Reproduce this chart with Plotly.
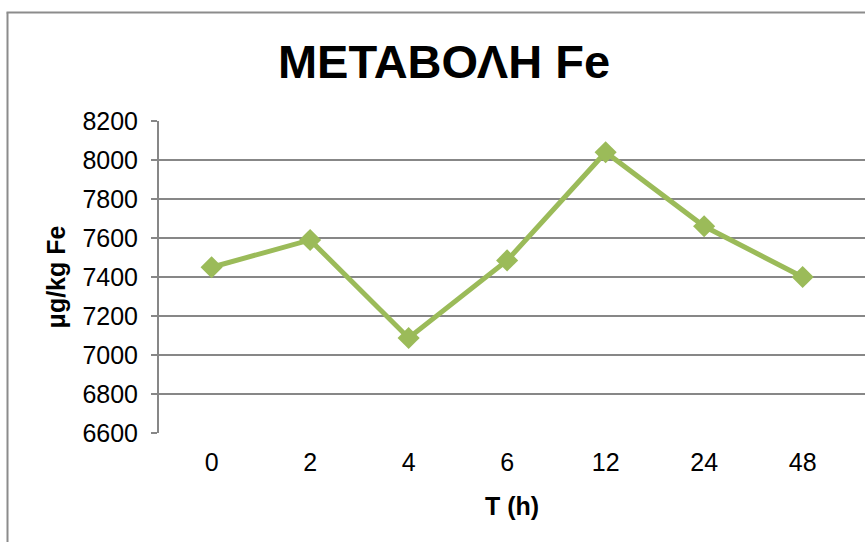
import plotly.graph_objects as go

# Fe content over time
hours = ["0", "2", "4", "6", "12", "24", "48"]
fe_values = [7450, 7590, 7087, 7485, 8040, 7660, 7400]
y_ticks = [6600, 6800, 7000, 7200, 7400, 7600, 7800, 8000, 8200]

W, H = 865, 542
L, R, T, B = 159, 0, 121, 109
plot_w = W - L - R
plot_h = H - T - B


def px_x(px):
    return (px - L) / plot_w


def px_y(py):
    return (H - B - py) / plot_h


green = "#9BBB59"
grid = "#878787"
font = "Liberation Sans, Arial, sans-serif"

fig = go.Figure()
fig.add_trace(go.Scatter(
    x=hours, y=fe_values,
    mode="lines+markers",
    line=dict(color=green, width=5),
    marker=dict(symbol="diamond", size=17, color=green),
    showlegend=False,
    cliponaxis=False,
))

fig.update_layout(
    width=W, height=H,
    margin=dict(l=L, r=R, t=T, b=B, pad=0),
    paper_bgcolor="white", plot_bgcolor="white",
    font=dict(family=font, color="black"),
    title=dict(
        text="<b>ΜΕΤΑΒΟΛΗ Fe</b>",
        font=dict(family=font, size=47, color="black"),
        x=px_x(444), xref="paper", xanchor="center",
        y=1 - 62 / H, yref="container", yanchor="middle",
    ),
    xaxis=dict(
        type="category",
        range=[-0.534, 6.633],
        showgrid=False,
        showline=False,
        ticks="",
        tickfont=dict(size=25, family=font),
        ticklabelstandoff=12,
        title=dict(text="<b>T (h)</b>", font=dict(size=25, family=font), standoff=22),
        zeroline=False,
    ),
    yaxis=dict(
        range=[6600, 8200],
        tickvals=y_ticks,
        ticktext=[str(v) for v in y_ticks],
        showgrid=True, gridcolor=grid, gridwidth=2,
        showline=True, linecolor=grid, linewidth=2,
        ticks="outside", ticklen=6, tickcolor=grid, tickwidth=2,
        tickfont=dict(size=25, family=font),
        ticklabelstandoff=8,
        title=dict(text="<b>μg/kg Fe</b>", font=dict(size=25, family=font), standoff=10),
        zeroline=False,
    ),
    shapes=[
        # outer chart frame (left and top edges)
        dict(type="line", xref="paper", yref="paper",
             x0=px_x(7.5), x1=px_x(7.5), y0=px_y(12.5), y1=px_y(560),
             line=dict(color="#8C8C8C", width=2)),
        dict(type="line", xref="paper", yref="paper",
             x0=px_x(6.5), x1=px_x(880), y0=px_y(12.5), y1=px_y(12.5),
             line=dict(color="#8C8C8C", width=2)),
    ],
)

fig.write_html("out.html")
